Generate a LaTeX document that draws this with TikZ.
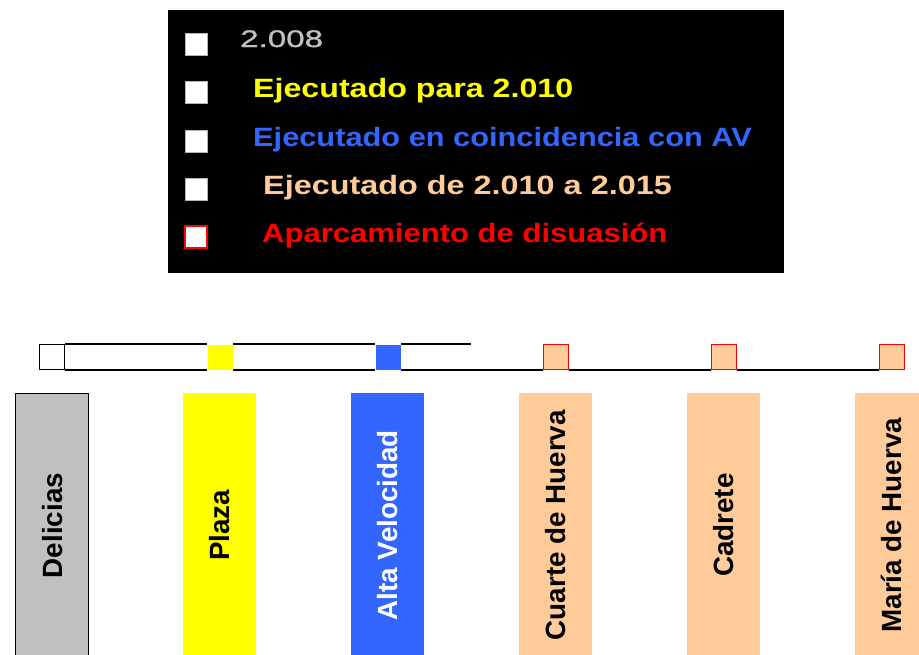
\documentclass[tikz,border=0pt]{standalone}
\usepackage{fontspec}
\setmainfont{Liberation Sans}
\newfontfamily\legA[FakeStretch=1.214]{Liberation Sans}
\newfontfamily\legB[FakeStretch=1.161]{Liberation Sans}
\newfontfamily\legC[FakeStretch=1.222]{Liberation Sans}
\newfontfamily\legD[FakeStretch=1.171]{Liberation Sans}
\newfontfamily\yearfont[FakeStretch=1.38,FakeBold=1.2]{Liberation Sans}
\definecolor{cgray}{HTML}{C0C0C0}
\definecolor{cyel}{HTML}{FFFF00}
\definecolor{cblue}{HTML}{3366FF}
\definecolor{cpeach}{HTML}{FFCC99}
\definecolor{cred}{HTML}{FF0000}
\tikzset{
  legsq/.style={draw=gray!60, fill=white, minimum size=22pt, inner sep=0pt, line width=0.8pt},
  legtxt/.style={anchor=base west, inner sep=0pt},
  trk/.style={minimum size=25pt, inner sep=0pt, anchor=north west, line width=1.2pt},
  bar/.style={minimum width=73pt, minimum height=264pt, inner sep=0pt, anchor=north west},
  bartxt/.style={rotate=90, inner sep=0pt, font=\bfseries\fontsize{27.8}{30}\selectfont},
  tline/.style={line width=1.5pt, black}
}
\newcommand{\legsize}{\bfseries\fontsize{26.5}{30}\selectfont}
\begin{document}
\begin{tikzpicture}[x=1pt,y=-1pt]
\useasboundingbox (0,0) rectangle (919,654);
\begin{scope}
\clip (0,0) rectangle (919,654);
% legend
\node[fill=black, minimum width=616pt, minimum height=263pt, inner sep=0pt, anchor=north west] (legend) at (168,10) {};
\node[legsq] (s1) at (196,44) {};
\node[legsq] (s2) at (196,92) {};
\node[legsq] (s3) at (196,141) {};
\node[legsq] (s4) at (196,189) {};
\node[legsq, draw=cred, line width=1.6pt] (s5) at (196,237) {};
\node[anchor=base west, inner sep=0pt, text=cgray, font=\yearfont\fontsize{24}{28}\selectfont] (t1) at (240,47) {2.008};
\node[legtxt, text=cyel, font=\legA\legsize] (t2) at (253,97) {Ejecutado para 2.010};
\node[legtxt, text=cblue, font=\legB\legsize] (t3) at (253,146) {Ejecutado en coincidencia con AV};
\node[legtxt, text=cpeach, font=\legC\legsize] (t4) at (263,194) {Ejecutado de 2.010 a 2.015};
\node[legtxt, text=cred, font=\legD\legsize] (t5) at (262,242) {Aparcamiento de disuasión};
% track
\node[trk, draw=black, fill=white] (q0) at (39,344) {};
\node[trk, fill=cyel] (q1) at (207,344) {};
\node[trk, fill=cblue] (q2) at (375,344) {};
\node[trk, draw=cred, fill=cpeach] (q3) at (543,344) {};
\node[trk, draw=cred, fill=cpeach] (q4) at (711,344) {};
\node[trk, draw=cred, fill=cpeach] (q5) at (879,344) {};
\coordinate (uend) at (471,344);
\draw[tline] (q0.north east) -- (q1.north west);
\draw[tline] (q1.north east) -- (q2.north west);
\draw[tline] (q2.north east) -- (uend);
\draw[tline] (q0.south east) -- (q1.south west);
\draw[tline] (q1.south east) -- (q2.south west);
\draw[tline] (q2.south east) -- (q3.south west);
\draw[tline] (q3.south east) -- (q4.south west);
\draw[tline] (q4.south east) -- (q5.south west);
% bars
\node[bar, draw=black, line width=1.2pt, fill=cgray] (b0) at (15,393) {};
\node[bar, fill=cyel] (b1) at (183,393) {};
\node[bar, fill=cblue] (b2) at (351,393) {};
\node[bar, fill=cpeach] (b3) at (519,393) {};
\node[bar, fill=cpeach] (b4) at (687,393) {};
\node[bar, fill=cpeach] (b5) at (855,393) {};
\node[bartxt] (l0) at (b0.center) {Delicias};
\node[bartxt] (l1) at (b1.center) {Plaza};
\node[bartxt, text=white] (l2) at (b2.center) {Alta Velocidad};
\node[bartxt] (l3) at (b3.center) {Cuarte de Huerva};
\node[bartxt] (l4) at (b4.center) {Cadrete};
\node[bartxt] (l5) at (b5.center) {María de Huerva};
\end{scope}
\end{tikzpicture}
\end{document}
